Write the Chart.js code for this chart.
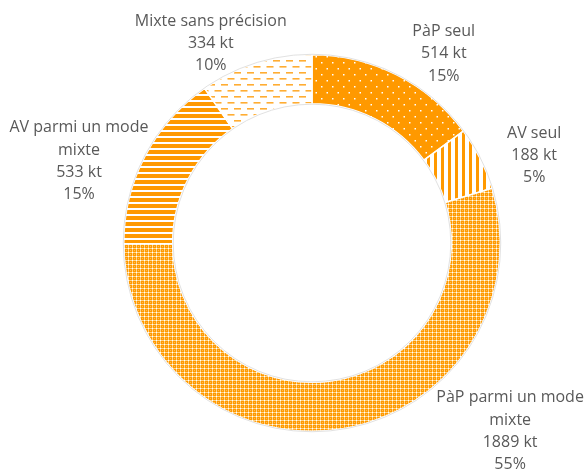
<!DOCTYPE html>
<html>
<head>
<meta charset="utf-8">
<script src="https://cdn.jsdelivr.net/npm/chart.js@4"></script>
<style>
  body { margin: 0; background: #fff; }
  #wrap { width: 587px; height: 470px; position: relative; }
</style>
</head>
<body>
<div id="wrap"><canvas id="donut"></canvas></div>
<script>
var categories = ['PàP seul', 'AV seul', 'PàP parmi un mode mixte', 'AV parmi un mode mixte', 'Mixte sans précision'];
var tonnages = [514, 188, 1889, 533, 334];
var unit = 'kt';

var orange = '#FF9900';

// small canvas tiles used as fill patterns
function tile(w, h, draw) {
    var c = document.createElement('canvas');
    c.width = w; c.height = h;
    var g = c.getContext('2d');
    g.fillStyle = '#fff';
    g.fillRect(0, 0, w, h);
    draw(g);
    return g.createPattern(c, 'repeat');
}

var dots = tile(11, 12, function (g) {
    g.fillStyle = orange; g.fillRect(0, 0, 11, 12);
    g.fillStyle = '#fff';
    g.fillRect(2, 2, 1.5, 1.5);
    g.fillRect(7.5, 8, 1.5, 1.5);
});
var vStripes = tile(7, 1, function (g) {
    g.fillStyle = orange; g.fillRect(0, 0, 3, 1);
});
var grid = tile(4, 4, function (g) {
    g.fillStyle = orange; g.fillRect(1, 1, 3, 3);
    g.fillStyle = '#FFD48A'; g.fillRect(0, 1, 1, 3); g.fillRect(1, 0, 3, 1);
    g.fillStyle = '#FFB84D'; g.fillRect(2, 2, 1, 1);
});
var hStripes = tile(1, 6, function (g) {
    g.fillStyle = orange; g.fillRect(0, 0, 1, 4);
});
var dashes = tile(13, 12, function (g) {
    g.fillStyle = '#FFAD33';
    g.fillRect(0, 0, 7, 1.6);
    g.fillRect(6.5, 6, 7, 1.6);
    g.fillRect(-6.5, 6, 7, 1.6);
});

var fills = [dots, vStripes, grid, hStripes, dashes];
// label block offsets from the outer mid point of each slice
var labelShift = [[47, -21], [54, -3], [170, 2], [-66, 5], [-45, -20]];

var labelFont = '16px "Open Sans", "Liberation Sans", sans-serif';

function wrap(ctx, text, maxW) {
    var words = text.split(' '), lines = [], cur = '';
    words.forEach(function (w) {
        var t = cur ? cur + ' ' + w : w;
        if (cur && ctx.measureText(t).width > maxW) { lines.push(cur); cur = w; }
        else cur = t;
    });
    if (cur) lines.push(cur);
    return lines;
}

var sliceLabels = {
    id: 'sliceLabels',
    afterDatasetsDraw: function (chart) {
        var ctx = chart.ctx;
        var meta = chart.getDatasetMeta(0);
        var total = tonnages.reduce(function (a, b) { return a + b; }, 0);
        ctx.save();
        // faint ring outline
        var a0 = meta.data[0];
        ctx.strokeStyle = '#d9d9d9';
        ctx.lineWidth = 0.8;
        ctx.beginPath(); ctx.arc(a0.x, a0.y, a0.outerRadius + 0.5, 0, Math.PI * 2); ctx.stroke();
        ctx.beginPath(); ctx.arc(a0.x, a0.y, a0.innerRadius - 0.5, 0, Math.PI * 2); ctx.stroke();

        ctx.font = labelFont;
        ctx.fillStyle = '#595959';
        ctx.textAlign = 'center';
        ctx.textBaseline = 'middle';
        meta.data.forEach(function (arc, i) {
            var p = arc.getProps(['x', 'y', 'startAngle', 'endAngle', 'outerRadius'], true);
            var mid = (p.startAngle + p.endAngle) / 2;
            var ax = p.x + Math.cos(mid) * p.outerRadius + labelShift[i][0];
            var ay = p.y + Math.sin(mid) * p.outerRadius + labelShift[i][1];
            var lines = wrap(ctx, categories[i], 165);
            lines.push(tonnages[i] + ' ' + unit);
            lines.push(Math.round(tonnages[i] / total * 100) + '%');
            var lh = 22.3;
            var y0 = ay - (lines.length - 1) * lh / 2;
            lines.forEach(function (l, k) { ctx.fillText(l, ax, y0 + k * lh); });
        });
        ctx.restore();
    }
};

new Chart(document.getElementById('donut'), {
    type: 'doughnut',
    data: {
        labels: categories,
        datasets: [{
            data: tonnages,
            backgroundColor: fills,
            borderColor: '#ffffff',
            borderWidth: 1.5,
            hoverOffset: 0
        }]
    },
    options: {
        responsive: true,
        maintainAspectRatio: false,
        animation: false,
        cutout: '74%',
        layout: { padding: { top: 54, bottom: 38, left: 37, right: 0 } },
        plugins: {
            legend: { display: false },
            tooltip: { enabled: false }
        }
    },
    plugins: [sliceLabels]
});
</script>
</body>
</html>
